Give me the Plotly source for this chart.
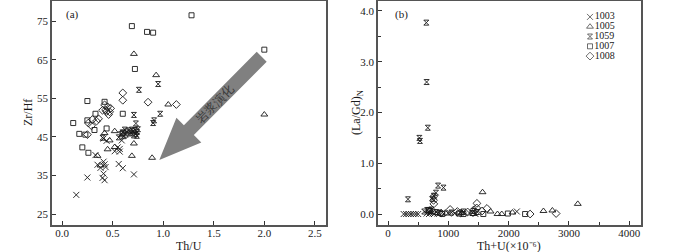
import plotly.graph_objects as go

W, H = 700, 252
FONT = "Liberation Serif"

series_names = ["1003", "1005", "1059", "1007", "1008"]
symbols = ["x-thin-open", "triangle-up-open", "hourglass-open", "square-open", "diamond-open"]
sizes = [6, 6, 5, 5, 6]

# Panel (a): Th/U vs Zr/Hf
a_x_1003 = [0.14, 0.25, 0.33, 0.35, 0.38, 0.41, 0.42, 0.43, 0.41, 0.40, 0.42, 0.41, 0.44, 0.55, 0.57, 0.56, 0.60, 0.71, 0.59, 0.57, 0.52]
a_y_1003 = [30.0, 34.5, 40.3, 37.8, 37.0, 38.6, 37.9, 37.2, 35.5, 34.4, 33.8, 44.6, 44.0, 42.3, 41.2, 38.0, 36.9, 35.3, 44.1, 41.9, 41.3]
a_x_1005 = [0.71, 0.93, 1.05, 2.00, 0.71, 0.69, 0.89, 0.45, 0.47, 0.52, 0.35, 0.38, 0.52, 0.42]
a_y_1005 = [66.5, 61.0, 53.4, 50.8, 43.3, 40.1, 39.6, 41.8, 44.1, 46.5, 40.1, 37.6, 42.4, 46.0]
a_x_1059 = [0.95, 0.76, 0.71, 0.73, 0.90, 0.91, 0.97, 0.60, 0.62, 0.64, 0.66, 0.68, 0.70, 0.72, 0.74, 0.75, 0.63, 0.67, 0.71, 0.73, 0.58, 0.61, 0.69, 0.74, 0.40, 0.56]
a_y_1059 = [58.7, 57.2, 50.7, 48.5, 48.6, 49.3, 51.0, 46.2, 46.9, 46.4, 46.7, 46.1, 46.5, 46.8, 46.3, 47.0, 45.6, 45.9, 45.4, 45.8, 45.7, 45.2, 46.9, 45.3, 44.8, 44.9]
a_x_1007 = [1.28, 0.69, 0.84, 0.90, 2.00, 0.72, 0.25, 0.42, 0.60, 0.11, 0.25, 0.32, 0.17, 0.23, 0.44, 0.20, 0.26, 0.60, 0.33]
a_y_1007 = [76.5, 73.7, 72.2, 72.0, 67.6, 62.6, 54.3, 54.1, 51.0, 48.6, 49.3, 46.8, 45.8, 45.6, 47.2, 42.3, 40.9, 46.0, 51.0]
a_x_1008 = [0.60, 0.60, 0.85, 1.13, 0.42, 0.45, 0.48, 0.44, 0.46, 0.40, 0.36, 0.34, 0.30, 0.29, 0.26, 0.25, 0.47, 0.43]
a_y_1008 = [56.4, 54.5, 54.0, 53.4, 53.3, 52.8, 52.4, 51.6, 50.8, 51.9, 49.7, 49.1, 49.5, 47.9, 48.6, 45.6, 51.5, 52.0]

# Panel (b): Th+U vs (La/Gd)N
b_x_1003 = [260, 300, 340, 380, 420, 460, 500, 700, 760, 820, 900, 1000, 1100, 1200, 1350, 1450, 2135, 640, 680]
b_y_1003 = [0.0, 0.0, 0.0, 0.0, 0.0, 0.0, 0.0, 0.02, 0.0, 0.01, 0.03, 0.02, 0.01, 0.03, 0.02, 0.0, 0.05, 0.01, 0.0]
b_x_1005 = [1567, 3146, 2577, 2725, 1815, 1886, 1700, 1420, 2063, 1220, 960]
b_y_1005 = [0.43, 0.20, 0.06, 0.07, 0.0, 0.0, 0.05, 0.0, 0.03, 0.02, 0.01]
b_x_1059 = [635, 640, 660, 520, 530, 331, 830, 920, 795, 760, 740, 650, 700, 720, 800, 850, 1050, 1250, 1420, 1480, 600]
b_y_1059 = [3.77, 2.60, 1.70, 1.50, 1.44, 0.29, 0.56, 0.52, 0.42, 0.36, 0.30, 0.08, 0.06, 0.09, 0.04, 0.02, 0.03, 0.05, 0.06, 0.04, 0.05]
b_x_1007 = [1987, 2273, 1580, 700, 740, 680, 1180, 1400, 900, 1250]
b_y_1007 = [0.01, 0.0, 0.0, 0.06, 0.05, 0.08, 0.01, 0.02, 0.0, 0.0]
b_x_1008 = [755, 755, 760, 1474, 1470, 1640, 1030, 2356, 2787, 1320, 1200, 1150, 1560, 1420, 880]
b_y_1008 = [0.34, 0.27, 0.20, 0.21, 0.12, 0.11, 0.09, 0.0, 0.01, 0.04, 0.02, 0.05, 0.06, 0.08, 0.02]

a_data = [(a_x_1003, a_y_1003), (a_x_1005, a_y_1005), (a_x_1059, a_y_1059), (a_x_1007, a_y_1007), (a_x_1008, a_y_1008)]
b_data = [(b_x_1003, b_y_1003), (b_x_1005, b_y_1005), (b_x_1059, b_y_1059), (b_x_1007, b_y_1007), (b_x_1008, b_y_1008)]

a_xticks = [0.0, 0.5, 1.0, 1.5, 2.0, 2.5]
a_yticks = [25, 35, 45, 55, 65, 75]
b_xticks = [0, 1000, 2000, 3000, 4000]
b_yticks = [0.0, 1.0, 2.0, 3.0, 4.0]

def px2paper(x, y):
    return x / W, 1 - y / H

fig = go.Figure()
ink = "#1a1a1a"
for i, name in enumerate(series_names):
    m = dict(symbol=symbols[i], size=sizes[i], color=ink, line=dict(width=0.9, color=ink))
    fig.add_trace(go.Scatter(x=a_data[i][0], y=a_data[i][1], mode="markers", marker=m,
                             xaxis="x", yaxis="y", showlegend=False, name=name))
    fig.add_trace(go.Scatter(x=b_data[i][0], y=b_data[i][1], mode="markers", marker=m,
                             xaxis="x2", yaxis="y2", showlegend=False, name=name))

# manual compact legend
fig.add_trace(go.Scatter(
    x=[0] * len(series_names), y=list(range(len(series_names))),
    mode="markers+text", text=series_names, textposition="middle right",
    textfont=dict(family=FONT, size=10, color=ink),
    marker=dict(symbol=symbols, size=[6, 6, 5, 5, 6], color=ink, line=dict(width=0.9, color=ink)),
    xaxis="x3", yaxis="y3", showlegend=False, hoverinfo="skip"))

ydom = [1 - 225 / H, 1 - 1 / H]
axis_common = dict(showline=True, mirror=True, linecolor="#555", linewidth=1.5,
                   ticks="inside", ticklen=4, tickcolor="#333", showgrid=False, zeroline=False,
                   tickfont=dict(family=FONT, size=11, color=ink))

fig.update_layout(
    width=W, height=H, margin=dict(l=0, r=0, t=0, b=0),
    paper_bgcolor="white", plot_bgcolor="white",
    xaxis=dict(domain=[52 / W, 326 / W], range=[-0.1, 2.61], tickvals=a_xticks,
               tickformat=".1f", anchor="y", ticklabelstandoff=-3, **axis_common),
    yaxis=dict(domain=ydom, range=[22.2, 80.2], tickvals=a_yticks, anchor="x", **axis_common),
    xaxis2=dict(domain=[378 / W, 641 / W], range=[-166, 4194], tickvals=b_xticks, anchor="y2",
                ticklabelstandoff=-3,
                minor=dict(dtick=500, ticks="inside", ticklen=3, tickcolor="#333"), **axis_common),
    yaxis2=dict(domain=ydom, range=[-0.216, 4.196], tickvals=b_yticks, tickformat=".1f", anchor="x2",
                minor=dict(dtick=0.5, ticks="inside", ticklen=3, tickcolor="#333"), **axis_common),
    xaxis3=dict(domain=[585 / W, 640 / W], range=[-0.1, 1.0], visible=False, anchor="y3"),
    yaxis3=dict(domain=[1 - 61 / H, 1 - 12 / H], range=[4.5, -0.5], visible=False, anchor="x3"),
    font=dict(family=FONT, size=11, color=ink),
)

# arrow "岩浆演化" (magma evolution) in panel (a)
tail = (261.7, 56.7)
tip = (159.3, 160.0)
dx, dy = tip[0] - tail[0], tip[1] - tail[1]
L = (dx * dx + dy * dy) ** 0.5
ux, uy = dx / L, dy / L
nx, ny = -uy, ux
sw, hw, hl = 7.0, 17.5, 42.0
bx, by = tip[0] - ux * hl, tip[1] - uy * hl
pts = [
    (tail[0] + nx * sw, tail[1] + ny * sw),
    (bx + nx * sw, by + ny * sw),
    (bx + nx * hw, by + ny * hw),
    tip,
    (bx - nx * hw, by - ny * hw),
    (bx - nx * sw, by - ny * sw),
    (tail[0] - nx * sw, tail[1] - ny * sw),
]
path = "M " + " L ".join("%.5f,%.5f" % px2paper(*p) for p in pts) + " Z"
fig.add_shape(type="path", path=path, xref="paper", yref="paper",
              fillcolor="#808080", line=dict(width=0), layer="below")

def ann(text, x, y, size=11, angle=0, color=ink):
    px, py = px2paper(x, y)
    fig.add_annotation(text=text, x=px, y=py, xref="paper", yref="paper", showarrow=False,
                       textangle=angle, font=dict(family=FONT, size=size, color=color),
                       xanchor="center", yanchor="middle")

ann("岩浆演化", 215, 104, size=12, angle=-45, color="#3a3a3a")
ann("(a)", 72, 14, size=11)
ann("(b)", 401, 14, size=11)
ann("Th/U", 189, 246, size=12)
ann("Th+U(×10⁻⁶)", 509, 246, size=12)
ann("Zr/Hf", 28, 113, size=12, angle=-90)
ann("(La/Gd)<sub>N</sub>", 357, 113, size=12, angle=-90)

fig.write_html("out.html", config={"displayModeBar": False},
               post_script="document.body.style.margin='0';document.body.style.overflow='hidden';")
